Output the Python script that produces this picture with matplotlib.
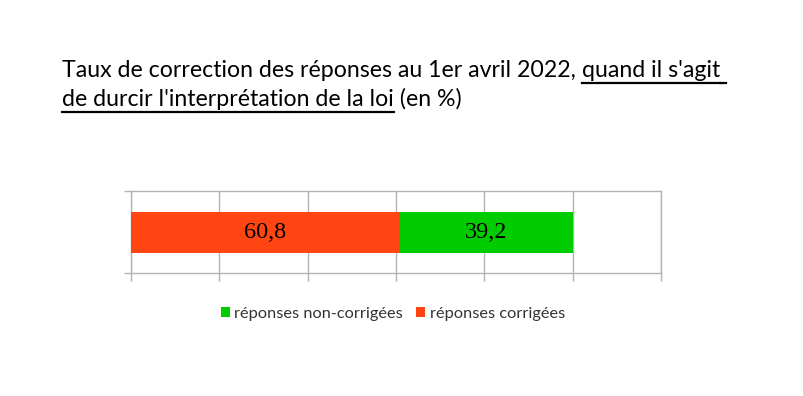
import matplotlib
matplotlib.use("Agg")
import matplotlib.pyplot as plt
from matplotlib.lines import Line2D

# ---- data ----
categories = ["réponses corrigées", "réponses non-corrigées"]
values = [60.8, 39.2]
colors = ["#FF4512", "#00CC00"]
legend_order = ["réponses non-corrigées", "réponses corrigées"]
title_line1 = [("Taux de correction des réponses au 1er avril 2022, ", False), ("quand il s'agit", True), (" ", True)]
title_line2 = [("de durcir l'interprétation de la loi", True), (" (en %)", False)]
x_ticks = [0, 20, 40, 60, 80, 100, 120]

W, H = 804, 396
fig = plt.figure(figsize=(W / 100, H / 100), dpi=100)
fig.patch.set_facecolor("white")

# ---- axes ----
ax = fig.add_axes([131 / W, 1 - 273 / H, 530 / W, 82 / H])
left = 0
handles = {}
for cat, v, c in zip(categories, values, colors):
    b = ax.barh(0, v, left=left, height=0.5, color=c, label=cat, zorder=3)
    ax.bar_label(b, labels=[f"{v:.1f}".replace(".", ",")], label_type="center",
                 fontsize=17.5, family="Liberation Serif", color="black")
    handles[cat] = b
    left += v

ax.set_xlim(x_ticks[0], x_ticks[-1])
ax.set_ylim(-0.5, 0.5)
ax.set_xticks(x_ticks)
ax.set_yticks([-0.5, 0.5])
ax.set_xticklabels([])
ax.set_yticklabels([])
grid_c = "#b3b3b3"
ax.grid(axis="x", color=grid_c, linewidth=1, zorder=0)
ax.tick_params(axis="x", length=6, color=grid_c, width=1)
ax.tick_params(axis="y", length=5, color=grid_c, width=1)
for s in ax.spines.values():
    s.set_color(grid_c)
    s.set_linewidth(1)

# ---- legend ----
leg = fig.legend([handles[k] for k in legend_order], legend_order,
                 loc="center", bbox_to_anchor=(393 / W, 1 - 314 / H), ncol=2,
                 frameon=False, handlelength=0.55, handleheight=0.55,
                 handletextpad=0.3, columnspacing=0.8,
                 prop={"family": "Lato", "size": 11.8})
for t in leg.get_texts():
    t.set_color("#333333")

# ---- title with partial underline ----
renderer = fig.canvas.get_renderer()
tfam = "Lato"

def text_width(s, size):
    t1 = fig.text(0, 0, "x" + s + "x", fontsize=size, family=tfam)
    t2 = fig.text(0, 0, "xx", fontsize=size, family=tfam)
    w = t1.get_window_extent(renderer).width - t2.get_window_extent(renderer).width
    t1.remove(); t2.remove()
    return w

base = 14
w_line1 = sum(text_width(s, base) for s, _ in title_line1[:2])
size = base * (722 - 62) / w_line1

def draw_line(parts, x0, y_base):
    x = x0
    for s, ul in parts:
        fig.text(x / W, 1 - y_base / H, s, fontsize=size, family=tfam,
                 va="baseline", ha="left", color="black")
        w = text_width(s, size)
        if ul:
            fig.add_artist(Line2D([x / W, (x + w) / W], [1 - (y_base + 5.5) / H] * 2,
                                  transform=fig.transFigure, color="black", linewidth=1.6))
        x += w

draw_line(title_line1, 62, 77)
draw_line(title_line2, 62, 106)

fig.savefig("out.png", dpi=100, facecolor="white")
